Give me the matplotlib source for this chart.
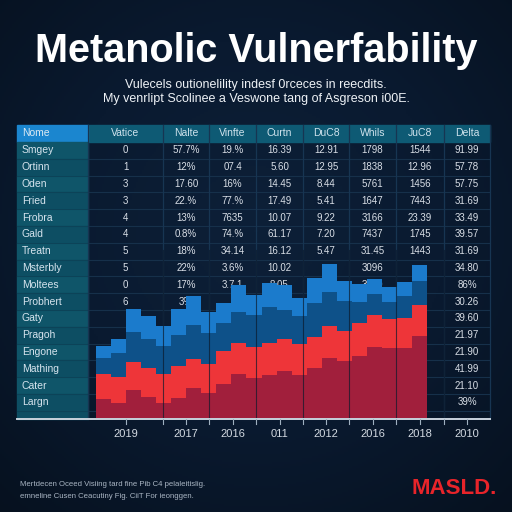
import numpy as np
import matplotlib
matplotlib.use("Agg")
import matplotlib.pyplot as plt
from matplotlib.patches import Rectangle

plt.rcParams['font.family'] = ['Liberation Sans', 'DejaVu Sans']

# ---- data ----
headers = ["Nome", "Vatice", "Nalte", "Vinfte", "Curtn", "DuC8", "Whils", "JuC8", "Delta"]
names = ["Smgey", "Ortinn", "Oden", "Fried", "Frobra", "Gald", "Treatn", "Msterbly",
         "Moltees", "Probhert", "Gaty", "Pragoh", "Engone", "Mathing", "Cater", "Largn"]
vatice = ["0", "1", "3", "3", "4", "4", "5", "5", "0", "6"]
nalte = ["57.7%", "12%", "17.60", "22.%", "13%", "0.8%", "18%", "22%", "17%", "3%"]
vinfte = ["19.%", "07.4", "16%", "77.%", "7635", "74.%", "34.14", "3.6%", "3.7.1"]
curtn = ["16.39", "5.60", "14.45", "17.49", "10.07", "61.17", "16.12", "10.02", "8.05"]
duc8 = ["12.91", "12.95", "8.44", "5.41", "9.22", "7.20", "5.47"]
whils = ["1798", "1838", "5761", "1647", "3166", "7437", "31.45", "3096", "3050"]
juc8 = ["1544", "12.96", "1456", "7443", "23.39", "1745", "1443"]
delta = ["91.99", "57.78", "57.75", "31.69", "33.49", "39.57", "31.69", "34.80",
         "86%", "30.26", "39.60", "21.97", "21.90", "41.99", "21.10", "39%"]
columns = [vatice, nalte, vinfte, curtn, duc8, whils, juc8, delta]

years = ["2019", "2017", "2016", "011", "2012", "2016", "2018", "2010"]

# stacked segments (bottom -> top)
dark_red = [19, 15, 28, 21, 15, 20, 30, 25, 34, 44, 40, 43, 47, 43, 50, 60, 57, 62, 71, 70, 70, 82]
red = [25, 26, 28, 29, 29, 32, 29, 29, 33, 31, 31, 32, 32, 31, 31, 32, 30, 33, 32, 29, 30, 31]
dark_blue = [16, 24, 30, 29, 28, 31, 34, 31, 28, 31, 32, 36, 29, 28, 34, 34, 30, 21, 21, 17, 22, 24]
blue = [12, 14, 23, 23, 20, 26, 29, 21, 20, 27, 20, 24, 25, 18, 25, 28, 20, 18, 15, 15, 14, 16]

# ---- layout (pixels) ----
BG = "#0a1a30"
col_edges = [17, 88, 163, 209, 256, 303, 349, 396, 444, 490]
col_centers = [(a + b) / 2 for a, b in zip(col_edges[:-1], col_edges[1:])]
top, head_h, row_h = 125, 17, 16.8
axis_y = 419

fig = plt.figure(figsize=(5.12, 5.12), dpi=100, facecolor=BG)
bg = fig.add_axes([0, 0, 1, 1])
bg.set_xlim(0, 512)
bg.set_ylim(512, 0)
bg.axis("off")

# vignette background
yy, xx = np.mgrid[0:1:256j, 0:1:256j]
r = np.sqrt((xx - 0.5) ** 2 + (yy - 0.45) ** 2)
bg.imshow(r, extent=[0, 512, 512, 0], cmap=matplotlib.colors.LinearSegmentedColormap.from_list(
    "v", ["#0d2038", "#0a1a30", "#06111f"]), vmin=0, vmax=0.75, zorder=0, aspect="auto")

# header row
bg.add_patch(Rectangle((col_edges[1], top), col_edges[-1] - col_edges[1], head_h,
                       color="#0e5a74", zorder=1))
bg.add_patch(Rectangle((col_edges[0], top), col_edges[1] - col_edges[0], head_h,
                       color="#1b86cf", zorder=1))
# name column
for i in range(len(names)):
    y0 = top + head_h + i * row_h
    bg.add_patch(Rectangle((col_edges[0], y0), col_edges[1] - col_edges[0], row_h,
                           color="#0f5569" if i % 2 == 0 else "#0d4e63", zorder=1))
bg.add_patch(Rectangle((col_edges[0], top + head_h + len(names) * row_h), col_edges[1] - col_edges[0],
                       axis_y - (top + head_h + len(names) * row_h), color="#0d4e63", zorder=1))

# grid lines
for i in range(1, len(names) + 1):
    y = top + head_h + i * row_h
    bg.plot([col_edges[1], col_edges[-1]], [y, y], color="#16304a", lw=0.8, zorder=2)
    bg.plot([col_edges[0], col_edges[1]], [y, y], color="#0c4358", lw=0.8, zorder=2)
for x in col_edges[1:]:
    bg.plot([x, x], [top, axis_y], color="#173552", lw=0.9, zorder=2)

# header text
bg.text(col_edges[0] + 5, top + head_h / 2, headers[0], color="#dbe9f3", fontsize=7.5,
        va="center", ha="left", zorder=3)
for h, cx in zip(headers[1:], col_centers[1:]):
    bg.text(cx, top + head_h / 2, h, color="#cfe2ec", fontsize=7.5, va="center", ha="center", zorder=3)

# body text
for i, n in enumerate(names):
    bg.text(col_edges[0] + 5, top + head_h + (i + 0.5) * row_h, n, color="#d6e4ee",
            fontsize=7.5, va="center", ha="left", zorder=3)
for vals, cx in zip(columns, col_centers[1:]):
    for i, v in enumerate(vals):
        bg.text(cx, top + head_h + (i + 0.5) * row_h, v, color="#d8dee6",
                fontsize=7, va="center", ha="center", zorder=3)

# ---- bars ----
n = len(blue)
s = (427 - 96) / n
ax = fig.add_axes([17 / 512, (512 - axis_y) / 512, (490 - 17) / 512, (axis_y - top) / 512])
ax.patch.set_alpha(0)
ax.set_xlim(-0.5 - (96 - 17) / s, n - 0.5 + (490 - 427) / s)
ax.set_ylim(-1, axis_y - top - 1)
ax.axis("off")
xs = np.arange(n)
b = np.zeros(n)
for seg, c in [(dark_red, "#a11f3c"), (red, "#ee3539"), (dark_blue, "#0e5189"), (blue, "#1b7bcc")]:
    ax.bar(xs, seg, bottom=b, width=1.0, color=c, edgecolor="none", zorder=2)
    b += np.array(seg)

# column separators over bars
for x in col_edges[2:-1]:
    fig.add_artist(plt.Line2D([x / 512, x / 512], [(512 - axis_y) / 512, (512 - 250) / 512],
                              color="#0c1a2c", lw=0.8, alpha=0.7, zorder=5))

# x axis
fig.add_artist(plt.Line2D([17 / 512, 490 / 512], [(512 - axis_y) / 512] * 2, color="#c9d3dd",
                          lw=1.4, zorder=6))
ticks = sorted(set(col_centers[1:] + col_edges[2:-1]))
for t in ticks:
    fig.add_artist(plt.Line2D([t / 512] * 2, [(512 - axis_y) / 512, (512 - axis_y - 5) / 512],
                              color="#9fb0c0", lw=0.8, zorder=6))
for yl, cx in zip(years, col_centers[1:]):
    fig.text(cx / 512, (512 - 434) / 512, yl, color="#d3dae2", fontsize=8, ha="center", va="center")

# ---- titles ----
fig.text(0.5, (512 - 51) / 512, "Metanolic Vulnerfability", color="white", fontsize=28.5,
         fontweight="bold", ha="center", va="center")
fig.text(0.5, (512 - 85) / 512, "Vulecels outionelility indesf 0rceces in reecdits.",
         color="#eef2f6", fontsize=9, ha="center", va="center")
fig.text(0.5, (512 - 99) / 512, "My venrlipt Scolinee a Veswone tang of Asgreson i00E.",
         color="#eef2f6", fontsize=9, ha="center", va="center")

# footer
fig.text(20 / 512, (512 - 485) / 512, "Mertdecen Oceed Visiing tard fine Pib C4 pelaleitislig.",
         color="#aab6c4", fontsize=5.6, ha="left", va="center")
fig.text(20 / 512, (512 - 497) / 512, "emneline Cusen Ceacutiny Fig. CiiT For ieonggen.",
         color="#aab6c4", fontsize=5.6, ha="left", va="center")
fig.text(497 / 512, (512 - 488) / 512, "MASLD.", color="#e8242a", fontsize=16, fontweight="bold",
         ha="right", va="center")

fig.savefig("out.png", dpi=100, facecolor=BG)
